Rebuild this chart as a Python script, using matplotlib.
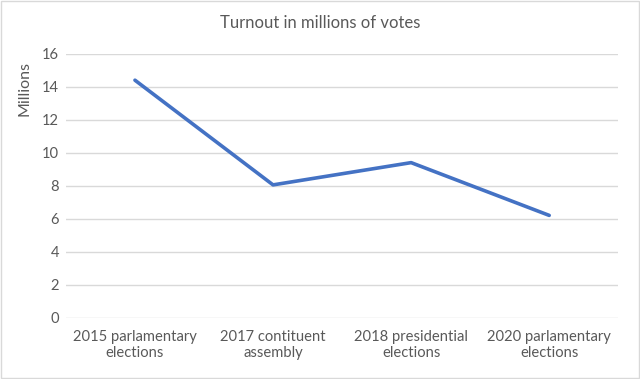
import matplotlib.pyplot as plt
from matplotlib.patches import Rectangle

categories = ["2015 parlamentary\nelections", "2017 contituent\nassembly",
              "2018 presidential\nelections", "2020 parlamentary\nelections"]
turnout = [14.4, 8.05, 9.4, 6.2]
yticks = [0, 2, 4, 6, 8, 10, 12, 14, 16]

plt.rcParams['font.family'] = ['Lato', 'DejaVu Sans']
text_color = "#595959"

fig = plt.figure(figsize=(6.4, 3.79), dpi=100)
ax = fig.add_axes([0.103, 0.162, 0.863, 0.696])

x = range(len(categories))
ax.plot(x, turnout, color="#4472C4", linewidth=2.6, solid_capstyle="round", zorder=3)

ax.set_xlim(-0.5, len(categories) - 0.5)
ax.set_ylim(0, 16)
ax.set_yticks(yticks)
ax.set_xticks(list(x))
ax.set_xticklabels(categories, fontsize=10.6, color=text_color, linespacing=1.2)
ax.tick_params(axis="y", labelsize=10.6, labelcolor=text_color, length=0, pad=5)
ax.tick_params(axis="x", length=0, pad=9)
ax.grid(axis="y", color="#D9D9D9", linewidth=1)
ax.set_axisbelow(True)
for s in ax.spines.values():
    s.set_visible(False)

ax.set_ylabel("Millions", fontsize=11.5, color=text_color)
ax.yaxis.set_label_coords(-0.062, 0.87)

fig.text(0.5, 0.94, "Turnout in millions of votes", ha="center", va="center",
         fontsize=12, color=text_color)

fig.patches.append(Rectangle((0.002, 0.003), 0.996, 0.994, transform=fig.transFigure,
                             fill=False, edgecolor="#D9D9D9", linewidth=1))

fig.savefig("out.png", dpi=100)
